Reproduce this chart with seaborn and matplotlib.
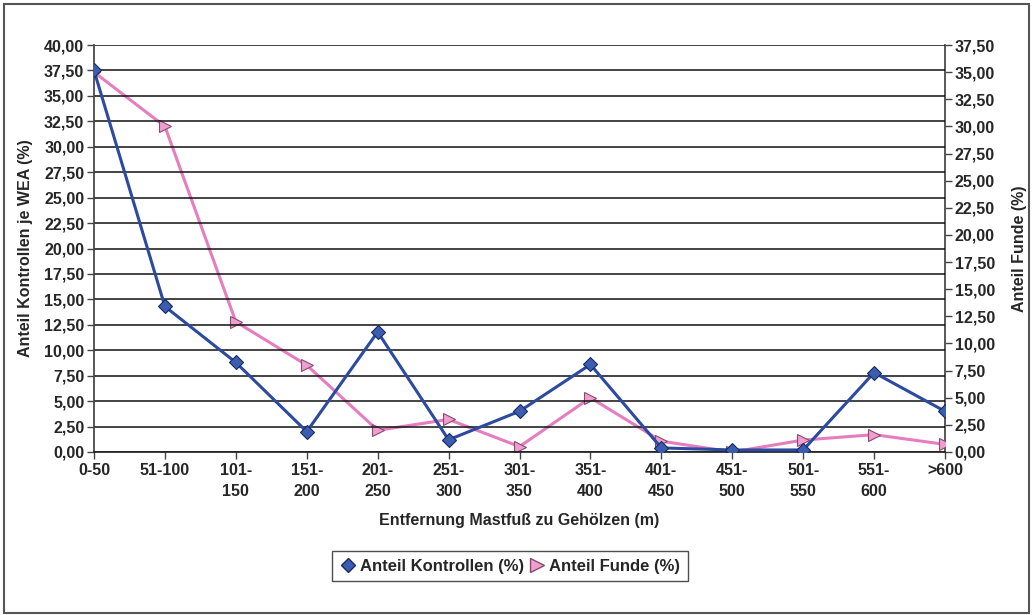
import matplotlib
matplotlib.use("Agg")
import matplotlib.pyplot as plt
import seaborn as sns
import pandas as pd
from matplotlib.ticker import FuncFormatter, MultipleLocator
from matplotlib.patches import Rectangle
from matplotlib.lines import Line2D

categories = ["0-50", "51-100", "101-\n150", "151-\n200", "201-\n250", "251-\n300",
              "301-\n350", "351-\n400", "401-\n450", "451-\n500", "501-\n550", "551-\n600", ">600"]
kontrollen = [37.5, 14.3, 8.8, 2.0, 11.8, 1.2, 4.0, 8.6, 0.4, 0.2, 0.2, 7.8, 4.0]
funde = [35.0, 30.0, 12.0, 8.0, 2.0, 3.0, 0.5, 5.0, 1.0, 0.0, 1.1, 1.6, 0.7]

sns.set_theme(style="white")
plt.rcParams["font.family"] = ["Liberation Sans", "DejaVu Sans"]
plt.rcParams["font.weight"] = "bold"

df = pd.DataFrame({"Entfernung": categories, "Kontrollen": kontrollen, "Funde": funde})

fig = plt.figure(figsize=(10.32, 6.15), dpi=100)
ax = fig.add_axes([94/1032, 1-452/615, (945-94)/1032, (452-45)/615])
ax2 = ax.twinx()

blue = "#2B4AA0"
pink = "#E67DBE"

sns.lineplot(data=df, x="Entfernung", y="Kontrollen", ax=ax, color=blue, lw=2.2,
             marker="D", markersize=7, markerfacecolor="#3A5DB0", markeredgecolor="#1A2A60",
             markeredgewidth=0.8, sort=False, zorder=5)
sns.lineplot(data=df, x="Entfernung", y="Funde", ax=ax2, color=pink, lw=2.2,
             marker=">", markersize=9, markerfacecolor="#EE9FD0", markeredgecolor="#8A4A70",
             markeredgewidth=0.8, sort=False, zorder=4)
ax.set_zorder(ax2.get_zorder() + 1)
ax.patch.set_visible(False)

fmt = FuncFormatter(lambda v, p: f"{v:.2f}".replace(".", ","))

ax.set_xlim(0, len(categories) - 1)
ax.set_ylim(0, 40)
ax.yaxis.set_major_locator(MultipleLocator(2.5))
ax.yaxis.set_major_formatter(fmt)
ax2.set_ylim(0, 37.5)
ax2.yaxis.set_major_locator(MultipleLocator(2.5))
ax2.yaxis.set_major_formatter(fmt)

ax.grid(axis="y", color="#111111", lw=1.1)
ax.grid(axis="x", visible=False)
ax2.grid(False)

for a in (ax, ax2):
    a.spines["top"].set_visible(False)
    a.spines["left"].set_color("#444444")
    a.spines["right"].set_color("#444444")
    a.spines["bottom"].set_color("#222222")
ax.spines["right"].set_visible(False)
ax2.spines["left"].set_visible(False)
ax2.spines["bottom"].set_visible(False)

ax.set_xticks(range(len(categories)))
ax.set_xticklabels(categories, fontsize=11.5, fontweight="bold", linespacing=1.5, va="top")
ax.tick_params(axis="x", direction="out", length=5, width=1, color="#444444", pad=3, bottom=True)
ax.tick_params(axis="y", direction="out", length=5, width=1, color="#444444", labelsize=11.5, pad=2, left=True)
ax2.tick_params(axis="y", direction="out", length=5, width=1, color="#444444", labelsize=11.5, pad=2, right=True)
for lab in ax.get_yticklabels() + ax2.get_yticklabels():
    lab.set_fontweight("bold")

ax.set_xlabel("Entfernung Mastfuß zu Gehölzen (m)", fontsize=11.5, fontweight="bold", labelpad=10)
ax.set_ylabel("Anteil Kontrollen je WEA (%)", fontsize=11.5, fontweight="bold", labelpad=8)
ax2.set_ylabel("Anteil Funde (%)", fontsize=11.5, fontweight="bold", labelpad=12)

handles = [
    Line2D([], [], ls="none", marker="D", markersize=7, markerfacecolor="#3A5DB0", markeredgecolor="#1A2A60"),
    Line2D([], [], ls="none", marker=">", markersize=10, markerfacecolor="#EE9FD0", markeredgecolor="#8A4A70"),
]
leg = fig.legend(handles, ["Anteil Kontrollen (%)", "Anteil Funde (%)"], loc="center",
                 bbox_to_anchor=(510/1032, 1-566/615), ncol=2, frameon=True, fancybox=False,
                 prop={"weight": "bold", "size": 12}, handletextpad=0.2,
                 columnspacing=0.3, handlelength=1.0, borderpad=0.45)
leg.get_frame().set_edgecolor("#222222")
leg.get_frame().set_linewidth(1.0)

fig.patches.append(Rectangle((4/1032, 1-613/615), (1029-4)/1032, (613-4)/615,
                             transform=fig.transFigure, fill=False, edgecolor="#555555", lw=1.5))

fig.savefig("out.png", dpi=100)
